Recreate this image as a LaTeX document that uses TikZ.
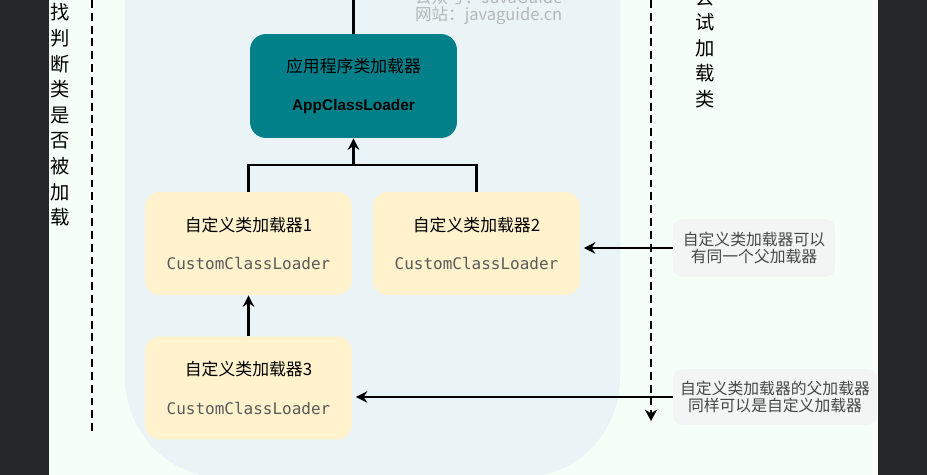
\documentclass[tikz,border=0pt]{standalone}
\usepackage{fontspec}
\setmainfont{Noto Sans CJK SC}
\newfontfamily\codefont{DejaVu Sans Mono}
\newfontfamily\latinfont{Liberation Sans}
\usetikzlibrary{arrows.meta}
\definecolor{darkbg}{HTML}{252628}
\definecolor{mintbg}{HTML}{F5FFF8}
\definecolor{panelbg}{HTML}{EAF3F5}
\definecolor{appteal}{HTML}{02808A}
\definecolor{loaderyellow}{HTML}{FFF2CD}
\definecolor{notegray}{HTML}{F3F4F4}
\definecolor{codegray}{HTML}{5A5A5A}
\definecolor{markgray}{HTML}{B4B8BA}
\tikzset{
  appbox/.style={fill=appteal, rounded corners=0.32cm, minimum width=4.14cm, minimum height=2.08cm, align=center, font=\fontsize{9.6}{12}\selectfont},
  loaderbox/.style={fill=loaderyellow, rounded corners=0.3cm, minimum width=4.14cm, minimum height=2.06cm, align=center, font=\fontsize{9.6}{12}\selectfont},
  notebox/.style={fill=notegray, rounded corners=0.2cm, align=center, inner sep=1pt, text=black!72, font=\fontsize{9}{10.2}\selectfont},
  link/.style={line width=1.15pt},
  pointer/.style={line width=1.15pt, -{Stealth[length=6.5pt,width=6.5pt]}},
  lookup/.style={line width=1.3pt, dash pattern=on 4.5pt off 2.8pt},
  sidetext/.style={align=center, font=\fontsize{11}{14.6}\selectfont},
}

\begin{document}
\begin{tikzpicture}[x=0.02cm, y=-0.02cm]
		%%%%% START %%%%%
		
		\useasboundingbox (0, 0) rectangle (927, 475);
		\fill[darkbg] (0, 0) rectangle (927, 475);
		\fill[mintbg] (49, 0) rectangle (878, 475);
		\fill[panelbg, rounded corners=2cm] (125, -150) rectangle (620, 478);
		
		% watermark
		\node[anchor=west, text=markgray, font=\fontsize{9.4}{10}\selectfont] (mark1) at (409, -3) {公众号：JavaGuide};
		\node[anchor=west, text=markgray, font=\fontsize{9.4}{10}\selectfont] (mark2) at (409, 16) {网站：javaguide.cn};
		
		% side texts and dashed arrows
		\node[sidetext] (findtext) at (60, 115) {找\\判\\断\\类\\是\\否\\被\\加\\载};
		\node[sidetext] (trytext) at (705, 48) {尝\\试\\加\\载\\类};
		\coordinate (findtop) at (92, 0);
		\coordinate (findend) at (92, 432);
		\coordinate (trytop) at (651, 0);
		\coordinate (tryend) at (651, 421);
		\draw[lookup] (findtop) -- (findend);
		\draw[lookup, -{Stealth[length=6.5pt,width=7pt]}] (trytop) -- (tryend);
		
		% loaders
		\node[appbox] (app) at (353.5, 86) {应用程序类加载器\\[10pt]{\latinfont\bfseries\fontsize{8.8}{12}\selectfont AppClassLoader}};
		\node[loaderbox] (cl1) at (248.5, 243.5) {自定义类加载器1\\[10pt]{\codefont\fontsize{9.1}{12}\selectfont\color{codegray}CustomClassLoader}};
		\node[loaderbox] (cl2) at (476.5, 243.5) {自定义类加载器2\\[10pt]{\codefont\fontsize{9.1}{12}\selectfont\color{codegray}CustomClassLoader}};
		\node[loaderbox] (cl3) at (248.5, 388) {自定义类加载器3\\[10pt]{\codefont\fontsize{9.1}{12}\selectfont\color{codegray}CustomClassLoader}};
		
		% notes
		\node[notebox, minimum width=3.24cm, minimum height=1.16cm] (note1) at (754, 248) {自定义类加载器可以\\有同一个父加载器};
		\node[notebox, minimum width=4.08cm, minimum height=1.12cm] (note2) at (775, 397) {自定义类加载器的父加载器\\同样可以是自定义加载器};
		
		% connectors
		\coordinate (apptop) at (353.5, -5);
		\coordinate (join) at (353.5, 165);
		\draw[link] (app.north) -- (apptop);
		\draw[link] (cl1.north) |- (join) -| (cl2.north);
		\draw[pointer] (join) -- (app.south);
		\draw[pointer] (cl3.north) -- (cl1.south);
		\draw[pointer, shorten >=2pt] (note1.west) -- (note1.west -| cl2.east);
		\draw[pointer, shorten >=2pt] (note2.west) -- (note2.west -| cl3.east);
		
		%%%%% END %%%%%
	\end{tikzpicture}
\end{document}
